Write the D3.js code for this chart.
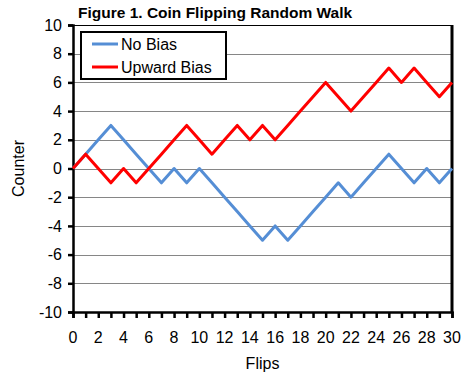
<!DOCTYPE html>
<html>
<head>
<meta charset="utf-8">
<script src="https://cdn.jsdelivr.net/npm/d3@7"></script>
<style>
  body { margin: 0; background: #fff; }
  text { font-family: "Liberation Sans", Arial, sans-serif; }
</style>
</head>
<body>
<div id="chart"></div>
<script>
const flips = d3.range(0, 31)
const noBias = [0, 1, 2, 3, 2, 1, 0, -1, 0, -1, 0, -1, -2, -3, -4, -5, -4, -5, -4, -3, -2, -1, -2, -1, 0, 1, 0, -1, 0, -1, 0]
const upwardBias = [0, 1, 0, -1, 0, -1, 0, 1, 2, 3, 2, 1, 2, 3, 2, 3, 2, 3, 4, 5, 6, 5, 4, 5, 6, 7, 6, 7, 6, 5, 6]
const yTicks = [-10, -8, -6, -4, -2, 0, 2, 4, 6, 8, 10]
const xLabels = d3.range(0, 31, 2)

const width = 467
const height = 378
const plotLeft = 73, plotRight = 452, plotTop = 25, plotBottom = 312

const svg = d3.select('#chart').append('svg')
    .attr('width', width)
    .attr('height', height)

const x = d3.scaleLinear().domain([0, 30]).range([plotLeft, plotRight])
const y = d3.scaleLinear().domain([-10, 10]).range([plotBottom, plotTop])

// gridlines
svg.append('g')
    .selectAll('line')
    .data(yTicks.filter(d => d !== -10))
    .join('line')
    .attr('x1', plotLeft)
    .attr('x2', plotRight)
    .attr('y1', d => Math.round(y(d)) + 0.5)
    .attr('y2', d => Math.round(y(d)) + 0.5)
    .attr('stroke', d => d === 10 ? '#000' : '#868686')
    .attr('stroke-width', 1)

// right border
svg.append('line')
    .attr('x1', plotRight).attr('x2', plotRight)
    .attr('y1', plotTop).attr('y2', plotBottom + 1)
    .attr('stroke', '#000').attr('stroke-width', 3)

// y axis
const yAxis = svg.append('g')
    .attr('transform', `translate(${plotLeft}, 0)`)
    .call(d3.axisLeft(y).tickValues(yTicks).tickSize(5).tickPadding(6).tickFormat(d => String(d)))
yAxis.select('.domain').attr('stroke-width', 2.5)
yAxis.selectAll('.tick line').attr('stroke-width', 2.5)
yAxis.selectAll('.tick text')
    .attr('font-size', 16)
    .attr('font-family', '"Liberation Sans", Arial, sans-serif')
    .attr('fill', '#000')

// x axis
const xAxis = svg.append('g')
    .attr('transform', `translate(0, ${plotBottom})`)
    .call(d3.axisBottom(x).tickValues(flips).tickSize(6).tickFormat(''))
xAxis.select('.domain').attr('stroke-width', 2.5)
xAxis.selectAll('.tick line').attr('stroke-width', 2.5)

svg.append('g')
    .selectAll('text')
    .data(xLabels)
    .join('text')
    .attr('x', d => x(d))
    .attr('y', 343)
    .attr('text-anchor', 'middle')
    .attr('font-size', 16)
    .text(d => d)

// axis titles
svg.append('text')
    .attr('x', x(15))
    .attr('y', 369)
    .attr('text-anchor', 'middle')
    .attr('font-size', 16)
    .text('Flips')

svg.append('text')
    .attr('transform', `translate(24, ${y(0)}) rotate(-90)`)
    .attr('text-anchor', 'middle')
    .attr('font-size', 16)
    .text('Counter')

svg.append('text')
    .attr('x', 78)
    .attr('y', 18)
    .attr('font-size', 15.5)
    .attr('font-weight', 'bold')
    .text('Figure 1. Coin Flipping Random Walk')

// lines
const line = d3.line()
    .x((d, i) => x(flips[i]))
    .y(d => y(d))

svg.append('path')
    .datum(noBias)
    .attr('d', line)
    .attr('fill', 'none')
    .attr('stroke', '#558ED5')
    .attr('stroke-width', 3)
    .attr('stroke-linejoin', 'round')

svg.append('path')
    .datum(upwardBias)
    .attr('d', line)
    .attr('fill', 'none')
    .attr('stroke', '#FF0000')
    .attr('stroke-width', 3)
    .attr('stroke-linejoin', 'round')

// legend
const legend = svg.append('g')
legend.append('rect')
    .attr('x', 81).attr('y', 32)
    .attr('width', 145).attr('height', 47)
    .attr('fill', '#fff')
    .attr('stroke', '#000')
    .attr('stroke-width', 2)

const legendItems = [
    {name: 'No Bias', color: '#558ED5'},
    {name: 'Upward Bias', color: '#FF0000'}
]
legendItems.forEach((d, i) => {
    const ly = 44 + i * 23
    legend.append('line')
        .attr('x1', 92).attr('x2', 118)
        .attr('y1', ly).attr('y2', ly)
        .attr('stroke', d.color)
        .attr('stroke-width', 3)
    legend.append('text')
        .attr('x', 121)
        .attr('y', ly + 6)
        .attr('font-size', 16)
        .text(d.name)
})
</script>
</body>
</html>
